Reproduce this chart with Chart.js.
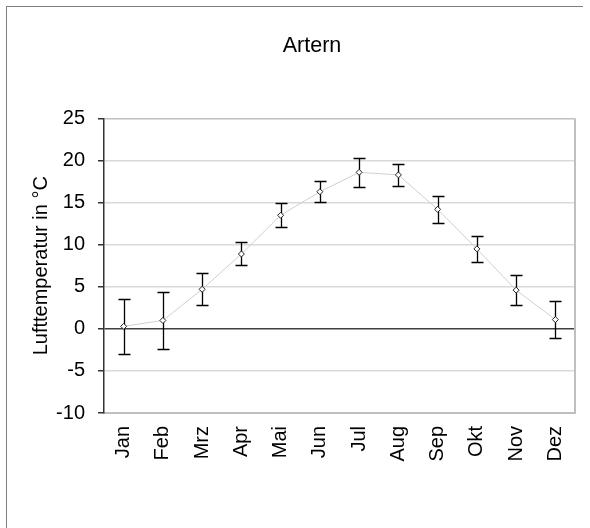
<!DOCTYPE html>
<html>
<head>
<meta charset="utf-8">
<script src="https://cdn.jsdelivr.net/npm/chart.js@4"></script>
<style>
  html, body { margin: 0; padding: 0; background: #fff; }
  #wrap { position: relative; width: 590px; height: 528px; overflow: hidden; }
  #frame { position: absolute; left: 6px; top: 6px; width: 576px; height: 600px;
           border-left: 1.5px solid #808080; border-top: 1.5px solid #808080; }
  canvas { position: absolute; left: 0; top: 0; }
</style>
</head>
<body>
<div id="wrap">
  <div id="frame"></div>
  <canvas id="chart" width="590" height="528"></canvas>
</div>
<script>
// Monatsmittel der Lufttemperatur, Station Artern
const months = ['Jan', 'Feb', 'Mrz', 'Apr', 'Mai', 'Jun', 'Jul', 'Aug', 'Sep', 'Okt', 'Nov', 'Dez'];
const meanTemp = [0.3, 1.0, 4.7, 8.9, 13.5, 16.3, 18.6, 18.3, 14.2, 9.5, 4.6, 1.1];
const stdDev = [3.3, 3.35, 1.9, 1.37, 1.4, 1.25, 1.75, 1.3, 1.6, 1.55, 1.8, 2.2];
const yTicks = { min: -10, max: 25, step: 5 };
const chartTitle = 'Artern';

const FONT = 'Liberation Sans, Arial, sans-serif';

// whiskers (mean +/- std) drawn through the chart's scales
const errorBars = {
    id: 'errorBars',
    beforeDatasetsDraw(chart) {
        const { ctx, scales: { x, y } } = chart;
        ctx.save();
        ctx.strokeStyle = '#000';
        ctx.lineWidth = 1.3;
        meanTemp.forEach((m, i) => {
            const px = Math.round(x.getPixelForValue(i)) + 0.5;
            const top = Math.round(y.getPixelForValue(m + stdDev[i])) + 0.5;
            const bot = Math.round(y.getPixelForValue(m - stdDev[i])) + 0.5;
            ctx.beginPath();
            ctx.moveTo(px, top);
            ctx.lineTo(px, bot);
            ctx.moveTo(px - 6, top);
            ctx.lineTo(px + 6, top);
            ctx.moveTo(px - 6, bot);
            ctx.lineTo(px + 6, bot);
            ctx.stroke();
        });
        ctx.restore();
    }
};

// grey frame on the right of the plot area + the chart title
// (the title sits left of the plot centre, as in the original)
const frameAndTitle = {
    id: 'frameAndTitle',
    afterDraw(chart) {
        const { ctx, chartArea: a } = chart;
        ctx.save();
        ctx.strokeStyle = '#c0c0c0';
        ctx.lineWidth = 2;
        ctx.beginPath();
        ctx.moveTo(a.right, a.top);
        ctx.lineTo(a.right, a.bottom);
        ctx.stroke();

        ctx.fillStyle = '#000';
        ctx.font = '21.5px ' + FONT;
        ctx.textAlign = 'center';
        ctx.textBaseline = 'alphabetic';
        ctx.fillText(chartTitle, 312, 52);
        ctx.restore();
    }
};

new Chart(document.getElementById('chart'), {
    type: 'line',
    data: {
        labels: months,
        datasets: [{
            data: meanTemp,
            borderColor: '#d0d0d0',
            borderWidth: 1,
            tension: 0,
            pointStyle: 'rectRot',
            pointRadius: 3,
            pointBorderWidth: 1,
            pointBorderColor: '#222',
            pointBackgroundColor: '#fff'
        }]
    },
    options: {
        responsive: false,
        animation: false,
        layout: { padding: { left: 0, right: 15, top: 118.5, bottom: 0 } },
        plugins: {
            legend: { display: false },
            tooltip: { enabled: false },
            title: { display: false }
        },
        scales: {
            x: {
                offset: true,
                grid: { display: false, drawTicks: false },
                border: { color: '#c0c0c0', width: 2 },
                ticks: {
                    color: '#000',
                    font: { family: FONT, size: 20 },
                    minRotation: 90,
                    maxRotation: 90,
                    padding: 13
                },
                afterFit(scale) {
                    scale.height = 115;
                    scale.paddingLeft = 0;
                    scale.paddingRight = 0;
                }
            },
            y: {
                min: yTicks.min,
                max: yTicks.max,
                ticks: {
                    stepSize: yTicks.step,
                    color: '#000',
                    font: { family: FONT, size: 20 },
                    padding: 13
                },
                grid: {
                    tickLength: 6,
                    tickColor: '#333',
                    lineWidth: 1.5,
                    color: c => {
                        const v = c.tick && c.tick.value;
                        if (v === 0) return '#404040';
                        if (v === yTicks.max || v === yTicks.min) return '#c0c0c0';
                        return '#d9d9d9';
                    }
                },
                border: { color: '#333', width: 1.5 },
                title: {
                    display: true,
                    text: 'Lufttemperatur in °C',
                    color: '#000',
                    font: { family: FONT, size: 20 },
                    padding: { top: 29, bottom: 0 }
                },
                afterFit(scale) { scale.width = 104; }
            }
        }
    },
    plugins: [errorBars, frameAndTitle]
});
</script>
</body>
</html>
